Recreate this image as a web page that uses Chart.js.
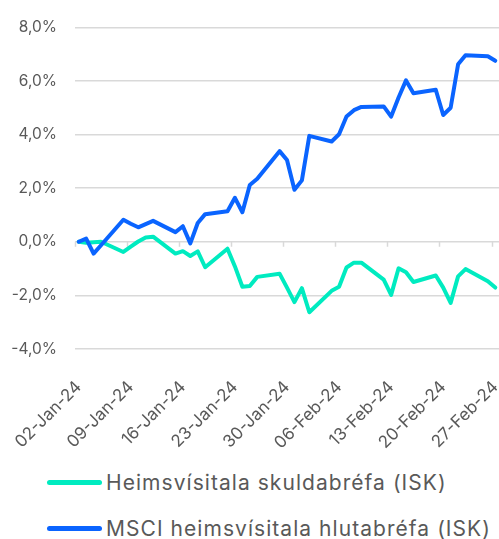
<!DOCTYPE html>
<html>
<head>
<meta charset="utf-8">
<script src="https://cdn.jsdelivr.net/npm/chart.js@4.4.1/dist/chart.umd.min.js"></script>
<style>
  html, body { margin: 0; padding: 0; background: #fff; overflow: hidden; }
  #wrap { position: relative; width: 499px; height: 539px; }
  #c { position: absolute; left: 0; top: 0; }
  .leg { position: absolute; left: 47px; height: 26px; display: flex; align-items: center;
         font-family: Inter, "Liberation Sans", sans-serif; font-size: 21px; letter-spacing: 1.05px; color: #595959; white-space: nowrap; }
  .sw { width: 55px; height: 5px; border-radius: 3px; margin-right: 4px; }
</style>
</head>
<body>
<div id="wrap">
  <canvas id="c" width="499" height="455"></canvas>
  <div class="leg" style="top:469px"><span class="sw" style="background:#00EBC0"></span><span>Heimsvísitala skuldabréfa (ISK)</span></div>
  <div class="leg" style="top:515px"><span class="sw" style="background:#0A64FF"></span><span>MSCI heimsvísitala hlutabréfa (ISK)</span></div>
</div>
<script>
// Business days (trading dates)
const dates = [
  '2024-01-02','2024-01-03','2024-01-04','2024-01-05',
  '2024-01-08','2024-01-09','2024-01-10','2024-01-11','2024-01-12',
  '2024-01-15','2024-01-16','2024-01-17','2024-01-18','2024-01-19',
  '2024-01-22','2024-01-23','2024-01-24','2024-01-25','2024-01-26',
  '2024-01-29','2024-01-30','2024-01-31','2024-02-01','2024-02-02',
  '2024-02-05','2024-02-06','2024-02-07','2024-02-08','2024-02-09',
  '2024-02-12','2024-02-13','2024-02-14','2024-02-15','2024-02-16',
  '2024-02-19','2024-02-20','2024-02-21','2024-02-22','2024-02-23',
  '2024-02-26','2024-02-27'
];
// Heimsvísitala skuldabréfa (ISK), %
const bondIndex = [
  0.00, -0.04, -0.02, 0.00,
  -0.38, -0.18, 0.01, 0.16, 0.19,
  -0.44, -0.35, -0.53, -0.36, -0.95,
  -0.26, -0.92, -1.68, -1.65, -1.31,
  -1.19, -1.71, -2.25, -1.73, -2.63,
  -1.83, -1.68, -0.96, -0.78, -0.78,
  -1.41, -1.98, -0.99, -1.14, -1.50,
  -1.26, -1.71, -2.28, -1.29, -1.02,
  -1.47, -1.71
];
// MSCI heimsvísitala hlutabréfa (ISK), %
const equityIndex = [
  0.00, 0.12, -0.44, -0.13,
  0.82, 0.67, 0.54, 0.66, 0.78,
  0.36, 0.58, -0.06, 0.70, 1.03,
  1.14, 1.64, 1.10, 2.12, 2.35,
  3.38, 3.05, 1.94, 2.29, 3.95,
  3.74, 4.01, 4.67, 4.91, 5.03,
  5.05, 4.67, 5.38, 6.02, 5.54,
  5.67, 4.73, 5.00, 6.62, 6.96,
  6.92, 6.75
];
const tickLabels = ['02-Jan-24','09-Jan-24','16-Jan-24','23-Jan-24','30-Jan-24','06-Feb-24','13-Feb-24','20-Feb-24','27-Feb-24'];
const yTicks = [-4, -2, 0, 2, 4, 6, 8];

const DAY = 86400000;
const t0 = Date.parse(dates[0] + 'T00:00:00Z');
const dayIdx = dates.map(d => Math.round((Date.parse(d + 'T00:00:00Z') - t0) / DAY));
const lastDay = dayIdx[dayIdx.length - 1];
const toPts = arr => arr.map((v, i) => ({ x: dayIdx[i], y: v }));

const GREY = '#595959';
const FONT = 'Inter, "Liberation Sans", sans-serif';

const canvas = document.getElementById('c');
const ctx0 = canvas.getContext('2d');
if ('letterSpacing' in ctx0) ctx0.letterSpacing = '0.8px';

const axisTicks = {
  id: 'axisTicks',
  beforeDatasetsDraw(chart) {
    const xs = chart.scales.x, ys = chart.scales.y, ctx = chart.ctx;
    const y0 = ys.getPixelForValue(0);
    ctx.save();
    ctx.strokeStyle = '#d9d9d9';
    ctx.lineWidth = 1.5;
    xs.ticks.forEach(t => {
      const px = Math.round(xs.getPixelForValue(t.value - 0.5)) + 0.5;
      ctx.beginPath();
      ctx.moveTo(px, y0);
      ctx.lineTo(px, y0 + 5);
      ctx.stroke();
    });
    ctx.restore();
  }
};

new Chart(canvas, {
  type: 'line',
  data: {
    datasets: [
      { label: 'Heimsvísitala skuldabréfa (ISK)', data: toPts(bondIndex), borderColor: '#00EBC0', backgroundColor: '#00EBC0',
        borderWidth: 4, pointRadius: 0, tension: 0, borderJoinStyle: 'round', borderCapStyle: 'round', order: 1 },
      { label: 'MSCI heimsvísitala hlutabréfa (ISK)', data: toPts(equityIndex), borderColor: '#0A64FF', backgroundColor: '#0A64FF',
        borderWidth: 4, pointRadius: 0, tension: 0, borderJoinStyle: 'round', borderCapStyle: 'round', order: 0 }
    ]
  },
  options: {
    responsive: false,
    animation: false,
    layout: { padding: { top: 16, right: 0, left: 0, bottom: 0 } },
    plugins: { legend: { display: false }, tooltip: { enabled: false } },
    scales: {
      x: {
        type: 'linear',
        min: -0.5,
        max: lastDay + 0.5,
        afterBuildTicks: s => { s.ticks = tickLabels.map((_, i) => ({ value: i * 7 })); },
        afterFit: s => { s.height = 106; s.paddingLeft = 0; s.paddingRight = 0; },
        grid: { display: false },
        border: { display: false },
        ticks: {
          autoSkip: false, maxRotation: 45, minRotation: 45, padding: 20,
          color: GREY, font: { family: FONT, size: 17 },
          callback: (v, i) => tickLabels[i]
        }
      },
      y: {
        min: -4, max: 8,
        afterBuildTicks: s => { s.ticks = yTicks.map(v => ({ value: v })); },
        afterFit: s => { s.width = 75; },
        grid: { color: '#d9d9d9', lineWidth: 1.5, drawTicks: false },
        border: { display: false },
        ticks: {
          padding: 18, color: GREY, font: { family: FONT, size: 15.5 },
          callback: v => v.toFixed(1).replace('.', ',') + '%'
        }
      }
    }
  },
  plugins: [axisTicks]
});
</script>
</body>
</html>
